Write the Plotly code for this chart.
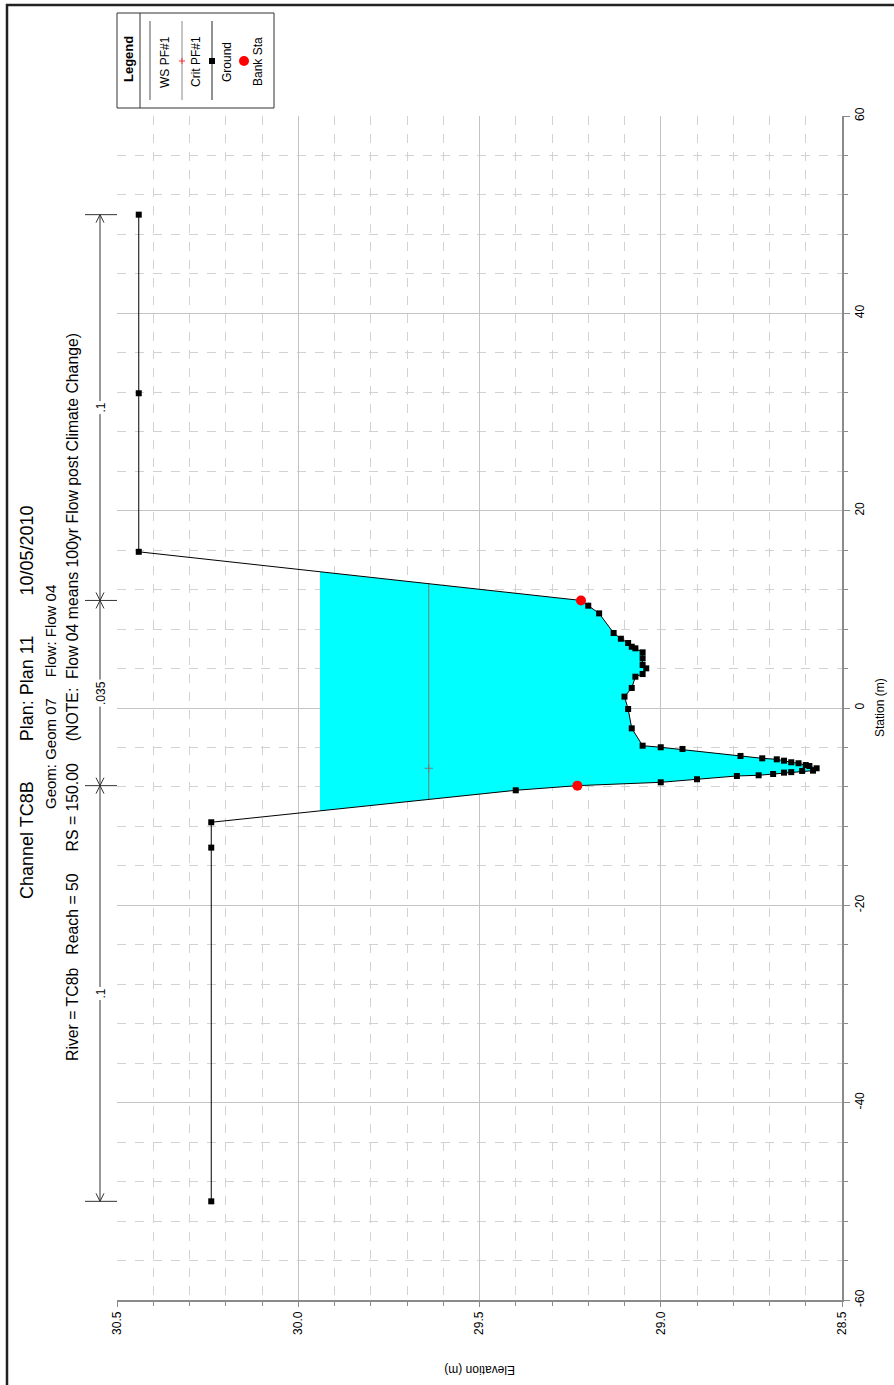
import numpy as np
import plotly.graph_objects as go

# ---------------- data ----------------
ground_station = [-50.0, -14.15, -11.58, -8.34, -7.87, -7.53, -7.22, -6.89, -6.82, -6.69,
                  -6.55, -6.50, -6.38, -6.35, -6.11, -5.88, -5.78, -5.60, -5.50, -5.34,
                  -5.20, -5.10, -4.86, -4.15, -3.98, -3.82, -2.06, -0.10, 1.15, 2.03,
                  3.17, 3.44, 4.02, 4.36, 5.03, 5.64, 6.05, 6.21, 6.59, 7.02,
                  7.60, 9.59, 10.37, 10.90, 15.83, 31.90, 50.0]
ground_elev = [30.24, 30.24, 30.24, 29.40, 29.23, 29.00, 28.90, 28.79, 28.73, 28.69,
               28.66, 28.64, 28.61, 28.58, 28.57, 28.59, 28.60, 28.62, 28.64, 28.66,
               28.68, 28.72, 28.78, 28.94, 29.00, 29.05, 29.08, 29.09, 29.10, 29.08,
               29.07, 29.05, 29.04, 29.05, 29.05, 29.05, 29.07, 29.08, 29.09, 29.11,
               29.13, 29.17, 29.20, 29.22, 30.44, 30.44, 30.44]
bank_station = [-7.87, 10.90]
bank_elev = [29.23, 29.22]
ws_elev = 29.94
crit_elev = 29.64
n_values = [".1", ".035", ".1"]

elev_tick_vals = [30.5, 30.0, 29.5, 29.0, 28.5]
elev_tick_text = ["30.5", "30.0", "29.5", "29.0", "28.5"]
sta_tick_vals = [-60, -40, -20, 0, 20, 40, 60]
sta_tick_text = ["-60", "-40", "-20", "0", "20", "40", "60"]
legend_labels = ["WS PF#1", "Crit PF#1", "Ground", "Bank Sta"]

title_line = "Channel TC8B" + "\u00a0" * 8 + "Plan: Plan 11" + "\u00a0" * 8 + "10/05/2010"
sub_line1 = "Geom: Geom 07" + "\u00a0" * 5 + "Flow: Flow 04"
sub_line2 = ("River = TC8b" + "\u00a0" * 3 + "Reach = 50" + "\u00a0" * 5 + "RS = 150.00"
             + "\u00a0" * 5 + "(NOTE:\u00a0\u00a0Flow 04 means 100yr Flow post Climate Change)")

# ---------------- derived geometry from data ----------------
st = np.array(ground_station)
el = np.array(ground_elev)


def crossings(level):
    out = []
    for i in range(len(st) - 1):
        e0, e1 = el[i], el[i + 1]
        if (e0 - level) * (e1 - level) < 0:
            t = (level - e0) / (e1 - e0)
            out.append((i, st[i] + t * (st[i + 1] - st[i])))
    return out


wc = crossings(ws_elev)
iL, sL = wc[0]
iR, sR = wc[-1]
poly_st = [sL] + list(st[iL + 1:iR + 1]) + [sR, sL]
poly_el = [ws_elev] + list(el[iL + 1:iR + 1]) + [ws_elev, ws_elev]

cc = crossings(crit_elev)
crit_st = [cc[0][1], cc[-1][1]]
thalweg_st = st[int(np.argmin(el))]

# ---------------- figure ----------------
W, H = 894, 1385
L, R, T, B = 117, 52, 116, 85
PW, PH = W - L - R, H - T - B


def px(X):
    return (X - L) / PW


def py(Y):
    return (H - B - Y) / PH


FONT = "Liberation Sans, Arial, sans-serif"


def txt(text, X, Y, size, angle=-90, xref="paper", yref="paper", **kw):
    return dict(text=text, xref=xref, yref=yref,
                x=px(X) if xref == "paper" else X,
                y=py(Y) if yref == "paper" else Y,
                showarrow=False, textangle=angle, xanchor="center", yanchor="middle",
                font=dict(size=size, color="black", family=FONT), **kw)


fig = go.Figure()
fig.add_trace(go.Scatter(x=poly_el, y=poly_st, mode="lines", fill="toself",
                         fillcolor="#00FFFF", line=dict(width=0), hoverinfo="skip",
                         showlegend=False))
fig.add_trace(go.Scatter(x=[crit_elev, crit_elev], y=crit_st, mode="lines",
                         line=dict(color="#7a7a7a", width=1), showlegend=False))
fig.add_trace(go.Scatter(x=[crit_elev], y=[thalweg_st], mode="markers",
                         marker=dict(symbol="cross-thin", size=6,
                                     line=dict(color="#7a7a7a", width=1)),
                         showlegend=False))
fig.add_trace(go.Scatter(x=ground_elev, y=ground_station, mode="lines+markers",
                         line=dict(color="black", width=1),
                         marker=dict(symbol="square", size=6, color="black"),
                         showlegend=False))
fig.add_trace(go.Scatter(x=bank_elev, y=bank_station, mode="markers",
                         marker=dict(symbol="circle", size=10, color="#ff0000"),
                         showlegend=False))

shapes = []
annotations = []

# outer frame
shapes.append(dict(type="rect", xref="paper", yref="paper", x0=px(7), x1=px(920),
                   y0=py(1420), y1=py(5), line=dict(color="#222222", width=2.5)))

# Manning's n bar
bounds = [st[0]] + bank_station + [st[-1]]
bar_x = px(100)
shapes.append(dict(type="line", xref="paper", yref="y", x0=bar_x, x1=bar_x,
                   y0=bounds[0], y1=bounds[-1], line=dict(color="#333333", width=1)))
for k, b in enumerate(bounds):
    shapes.append(dict(type="line", xref="paper", yref="y", x0=px(85), x1=px(117),
                       y0=b, y1=b, line=dict(color="#333333", width=1)))
    dirs = []
    if k > 0:
        dirs.append(-1)
    if k < len(bounds) - 1:
        dirs.append(1)
    for d in dirs:
        for sx in (-4, 4):
            shapes.append(dict(type="line", xref="paper", yref="y",
                               xsizemode="pixel", xanchor=bar_x,
                               ysizemode="pixel", yanchor=b,
                               x0=sx, y0=8 * d, x1=0, y1=0,
                               line=dict(color="#333333", width=1)))
for k, lab in enumerate(n_values):
    mid = (bounds[k] + bounds[k + 1]) / 2
    annotations.append(txt(lab, 101, mid, 12, yref="y", bgcolor="white"))

# legend box
shapes.append(dict(type="rect", xref="paper", yref="paper", x0=px(117), x1=px(274),
                   y0=py(108), y1=py(13), line=dict(color="#333333", width=1),
                   fillcolor="white"))
shapes.append(dict(type="line", xref="paper", yref="paper", x0=px(140), x1=px(140),
                   y0=py(108), y1=py(13), line=dict(color="#333333", width=1)))
annotations.append(txt("<b>Legend</b>", 128, 59, 13))
line_x = [150, 182, 212]
line_col = ["#555555", "#888888", "#222222"]
for X, c in zip(line_x, line_col):
    shapes.append(dict(type="line", xref="paper", yref="paper", x0=px(X), x1=px(X),
                       y0=py(100), y1=py(21), line=dict(color=c, width=1)))
# crit plus
for (a0, b0, a1, b1) in [(-3, 0, 3, 0), (0, -3, 0, 3)]:
    shapes.append(dict(type="line", xref="paper", yref="paper", xsizemode="pixel",
                       ysizemode="pixel", xanchor=px(182), yanchor=py(61),
                       x0=a0, y0=b0, x1=a1, y1=b1, line=dict(color="#ff3030", width=1)))
# ground square
shapes.append(dict(type="rect", xref="paper", yref="paper", xsizemode="pixel",
                   ysizemode="pixel", xanchor=px(212), yanchor=py(61),
                   x0=-3, x1=3, y0=-3, y1=3, fillcolor="black", line=dict(width=0)))
# bank circle
shapes.append(dict(type="circle", xref="paper", yref="paper", xsizemode="pixel",
                   ysizemode="pixel", xanchor=px(244), yanchor=py(61),
                   x0=-5, x1=5, y0=-5, y1=5, fillcolor="#ff0000", line=dict(width=0)))
for X, lab in zip([165, 196, 227, 258], legend_labels):
    annotations.append(txt(lab, X, 62, 12))

# titles
annotations.append(txt(title_line, 27, 702, 18))
annotations.append(txt(sub_line1, 50, 697, 15))
annotations.append(txt(sub_line2, 72, 697, 15.8))
# axis titles
annotations.append(txt("Elevation (m)", (L + W - R) / 2, 1370, 12, angle=180))
annotations.append(txt("Station (m)", 880, T + PH / 2, 12))

GRID = "#c4c4c4"
MINOR = "#d2d2d2"
fig.update_layout(
    width=W, height=H,
    margin=dict(l=L, r=R, t=T, b=B, pad=0),
    paper_bgcolor="white", plot_bgcolor="white",
    showlegend=False,
    font=dict(family=FONT, color="black", size=12),
    shapes=shapes, annotations=annotations,
    xaxis=dict(range=[30.5, 28.5], tickmode="array", tickvals=elev_tick_vals,
               ticktext=elev_tick_text, tickangle=-90, side="bottom",
               showgrid=True, gridcolor=GRID, gridwidth=1, zeroline=False,
               showline=True, linecolor="#8a8a8a", linewidth=1.5,
               ticks="outside", ticklen=5, tickcolor="#8a8a8a",
               tickfont=dict(size=12, family=FONT, color="black"),
               minor=dict(tickmode="linear", tick0=28.5, dtick=0.1, ticks="outside",
                          ticklen=4, tickcolor="#8a8a8a", showgrid=True,
                          gridcolor=MINOR, griddash="dash", gridwidth=1)),
    yaxis=dict(range=[-60, 60], tickmode="array", tickvals=sta_tick_vals,
               ticktext=sta_tick_text, tickangle=-90, side="right",
               showgrid=True, gridcolor=GRID, gridwidth=1, zeroline=False,
               showline=True, linecolor="#8a8a8a", linewidth=1.5,
               ticks="outside", ticklen=6, tickcolor="#8a8a8a",
               tickfont=dict(size=12, family=FONT, color="black"),
               minor=dict(tickmode="linear", tick0=0, dtick=4, ticks="outside",
                          ticklen=4, tickcolor="#8a8a8a", showgrid=True,
                          gridcolor=MINOR, griddash="dash", gridwidth=1)),
)

fig.write_html("out.html")
